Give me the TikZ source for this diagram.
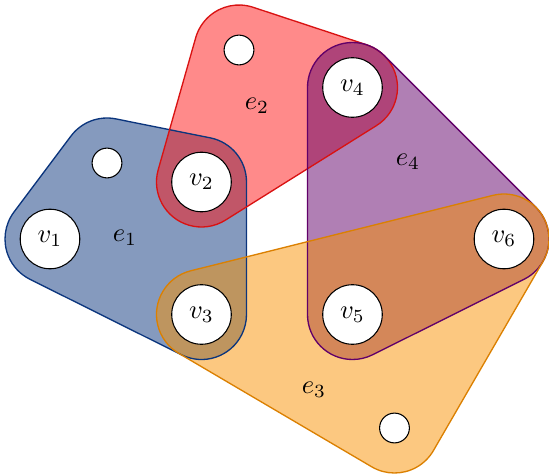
\documentclass[tikz,border=0pt]{standalone}
\usetikzlibrary{calc}
\definecolor{eone}{RGB}{11,53,125}
\definecolor{etwo}{RGB}{255,21,21}
\definecolor{ethree}{RGB}{249,145,1}
\definecolor{efour}{RGB}{97,0,105}
\newcommand\hullOnePath{($(p1)+(-116.49:45)$) -- ($(p3)+(-116.49:45)$)
  arc[start angle=-116.49, end angle=0, radius=45]
  -- ($(p2)+(0:45)$) arc[start angle=0, end angle=78.63, radius=45]
  -- ($(pa)+(78.63:45)$) arc[start angle=78.63, end angle=143.13, radius=45]
  -- ($(p1)+(143.13:45)$) arc[start angle=143.13, end angle=243.51, radius=45]
  -- cycle}
\newcommand\hullTwoPath{($(p2)+(-57.96:45)$) -- ($(p4)+(-57.96:45)$)
  arc[start angle=-57.96, end angle=71.72, radius=45]
  -- ($(pb)+(71.72:45)$) arc[start angle=71.72, end angle=164.14, radius=45]
  -- ($(p2)+(164.14:45)$) arc[start angle=164.14, end angle=302.04, radius=45]
  -- cycle}
\newcommand\hullFourPath{($(p4)+(180:45)$) -- ($(p5)+(180:45)$)
  arc[start angle=180, end angle=296.49, radius=45]
  -- ($(p6)+(-63.51:45)$) arc[start angle=-63.51, end angle=45, radius=45]
  -- ($(p4)+(45:45)$) arc[start angle=45, end angle=180, radius=45]
  -- cycle}
\newcommand\hullThreePath{($(p3)+(-120.46:45)$) -- ($(pc)+(-120.46:45)$)
  arc[start angle=-120.46, end angle=-30.08, radius=45]
  -- ($(p6)+(-30.08:45)$) arc[start angle=-30.08, end angle=104.01, radius=45]
  -- ($(p3)+(104.01:45)$) arc[start angle=104.01, end angle=239.54, radius=45]
  -- cycle}
\begin{document}
\begin{tikzpicture}[x=0.376pt,y=0.376pt,
  hullfill/.style={fill opacity=0.5},
  hullline/.style={line width=0.5pt},
  vert/.style={circle, draw=black, fill=white, line width=0.4pt, minimum size=22.4pt, inner sep=0pt},
  dummy/.style={circle, draw=black, fill=white, line width=0.4pt, minimum size=11.2pt, inner sep=0pt},
  elab/.style={inner sep=0pt}]
\useasboundingbox (0,0) rectangle (549,475);
% centres
\coordinate (p1) at (50,236);
\coordinate (pa) at (107,312);
\coordinate (p2) at (201.5,293);
\coordinate (p3) at (201.5,160.5);
\coordinate (pb) at (239,425);
\coordinate (p4) at (352.5,387.5);
\coordinate (p5) at (352.5,160.5);
\coordinate (p6) at (504,236);
\coordinate (pc) at (394.5,47);
% fills
\fill[hullfill, eone] \hullOnePath;
\fill[hullfill, etwo] \hullTwoPath;
\fill[hullfill, efour] \hullFourPath;
\fill[hullfill, ethree] \hullThreePath;
% borders
\draw[hullline, eone] \hullOnePath;
\draw[hullline, etwo!85!black] \hullTwoPath;
\draw[hullline, efour] \hullFourPath;
\draw[hullline, ethree!88!black] \hullThreePath;
% vertices
\node[vert] (v1) at (p1) {$v_1$};
\node[vert] (v2) at (p2) {$v_2$};
\node[vert] (v3) at (p3) {$v_3$};
\node[vert] (v4) at (p4) {$v_4$};
\node[vert] (v5) at (p5) {$v_5$};
\node[vert] (v6) at (p6) {$v_6$};
\node[dummy] (da) at (pa) {};
\node[dummy] (db) at (pb) {};
\node[dummy] (dc) at (pc) {};
% labels
\node[elab] (l1) at (125,237) {$e_1$};
\node[elab] (l2) at (257,369) {$e_2$};
\node[elab] (l3) at (314,85) {$e_3$};
\node[elab] (l4) at (408,313) {$e_4$};
\end{tikzpicture}
\end{document}
